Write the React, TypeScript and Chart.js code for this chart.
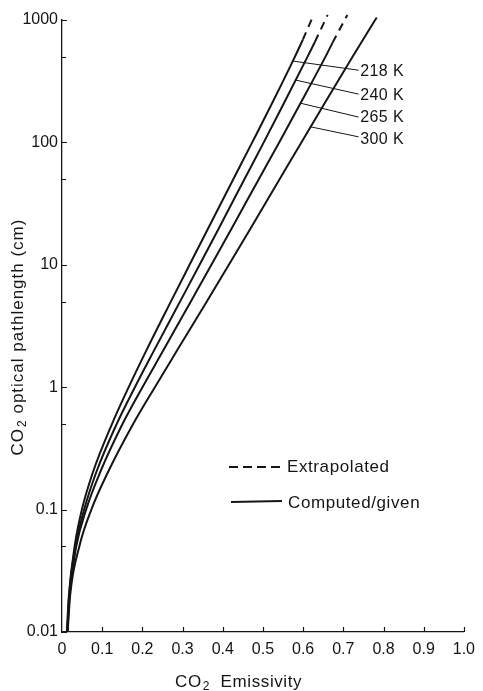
import React, { useEffect, useRef } from 'react';
import { Chart, registerables } from 'chart.js';

Chart.register(...registerables);

// ---- Axis ticks ----
const X_TICKS = [0, 0.1, 0.2, 0.3, 0.4, 0.5, 0.6, 0.7, 0.8, 0.9, 1.0];
const X_TICK_LABELS = ['0', '0.1', '0.2', '0.3', '0.4', '0.5', '0.6', '0.7', '0.8', '0.9', '1.0'];
const Y_TICKS = [0.01, 0.1, 1, 10, 100, 1000];
const Y_TICK_LABELS = ['0.01', '0.1', '1', '10', '100', '1000'];
const Y_MINOR_TICKS = [0.05, 0.5, 5, 50, 500];

// ---- Series (emissivity vs optical pathlength, cm) ----
const TEMP_LABELS = ['218 K', '240 K', '265 K', '300 K'];

const PATH_218 = [0.01, 0.02, 0.05, 0.1, 0.2, 0.5, 1, 2, 5, 10, 20, 50, 100, 200, 500, 690];
const EMIS_218 = [0.012, 0.0172, 0.0314, 0.0495, 0.0765, 0.1243, 0.1659, 0.21, 0.2708, 0.3174, 0.3642, 0.4262, 0.4733, 0.5199, 0.5794, 0.5993];
const PATH_218_EXT = [690, 1100];
const EMIS_218_EXT = [0.5993, 0.626];

const PATH_240 = [0.01, 0.02, 0.05, 0.1, 0.2, 0.5, 1, 2, 5, 10, 20, 50, 100, 200, 500, 661];
const EMIS_240 = [0.013, 0.0179, 0.0333, 0.0551, 0.0848, 0.136, 0.1814, 0.2292, 0.2936, 0.3424, 0.3907, 0.4539, 0.502, 0.5493, 0.6108, 0.6292];
const PATH_240_EXT = [661, 1100];
const EMIS_240_EXT = [0.6292, 0.661];

const PATH_265 = [0.01, 0.02, 0.05, 0.1, 0.2, 0.5, 1, 2, 5, 10, 20, 50, 100, 200, 500, 650];
const EMIS_265 = [0.0135, 0.0189, 0.0355, 0.06, 0.0944, 0.1505, 0.2002, 0.2522, 0.3203, 0.3718, 0.4228, 0.4897, 0.5404, 0.5904, 0.6554, 0.673];
const PATH_265_EXT = [650, 1100];
const EMIS_265_EXT = [0.673, 0.71];

const PATH_300 = [0.01, 0.02, 0.05, 0.1, 0.2, 0.5, 1, 2, 5, 10, 20, 50, 100, 200, 500, 1050];
const EMIS_300 = [0.014, 0.0203, 0.0431, 0.073, 0.1137, 0.177, 0.2311, 0.2865, 0.36, 0.4152, 0.4699, 0.5414, 0.5956, 0.6502, 0.723, 0.7831];

// ---- Label leaders (from curve to label) ----
const LEADER_START_EMIS = [0.574, 0.5815, 0.5935, 0.6186];
const LEADER_START_PATH = [462, 323, 209, 134];
const LEADER_END_EMIS = [0.738, 0.738, 0.738, 0.738];
const LEADER_END_PATH = [389, 248, 161, 111];
const LABEL_EMIS = [0.742, 0.742, 0.742, 0.742];
const LABEL_PATH = [376, 239, 158, 105];

const LEGEND_LABELS = ['Extrapolated', 'Computed/given'];

const INK = '#151515';
const FONT = '"Liberation Sans", Arial, Helvetica, sans-serif';

const pts = (xs: number[], ys: number[]) => xs.map((x, i) => ({ x, y: ys[i] }));

function drawCO2(ctx: CanvasRenderingContext2D, x: number, y: number, rest: string, size: number) {
  ctx.font = `${size}px ${FONT}`;
  ctx.textAlign = 'left';
  ctx.textBaseline = 'middle';
  ctx.fillText('CO', x, y);
  let cx = x + ctx.measureText('CO').width + 1;
  ctx.font = `${Math.round(size * 0.72)}px ${FONT}`;
  ctx.fillText('2', cx, y + size * 0.28);
  cx += ctx.measureText('2').width;
  ctx.font = `${size}px ${FONT}`;
  ctx.fillText(rest, cx, y);
}

function measureCO2(ctx: CanvasRenderingContext2D, rest: string, size: number) {
  ctx.font = `${size}px ${FONT}`;
  let w = ctx.measureText('CO').width + 1;
  ctx.font = `${Math.round(size * 0.72)}px ${FONT}`;
  w += ctx.measureText('2').width;
  ctx.font = `${size}px ${FONT}`;
  w += ctx.measureText(rest).width;
  return w;
}

const decorPlugin = {
  id: 'decor',
  afterDraw(chart: any) {
    const ctx: CanvasRenderingContext2D = chart.ctx;
    const xs = chart.scales.x;
    const ys = chart.scales.y;
    const area = chart.chartArea;
    ctx.save();
    ctx.strokeStyle = INK;
    ctx.fillStyle = INK;

    // inward tick marks
    ctx.lineWidth = 1.2;
    ctx.beginPath();
    X_TICKS.forEach((v, i) => {
      if (i === 0) return;
      const px = Math.round(xs.getPixelForValue(v)) + 0.5;
      ctx.moveTo(px, area.bottom);
      ctx.lineTo(px, area.bottom - 5);
    });
    Y_TICKS.forEach((v) => {
      const py = Math.round(ys.getPixelForValue(v)) + 0.5;
      ctx.moveTo(area.left, py);
      ctx.lineTo(area.left + 5, py);
    });
    Y_MINOR_TICKS.forEach((v) => {
      const py = Math.round(ys.getPixelForValue(v)) + 0.5;
      ctx.moveTo(area.left, py);
      ctx.lineTo(area.left + 4, py);
    });
    ctx.stroke();

    // series labels
    ctx.font = `16px ${FONT}`;
    (ctx as any).letterSpacing = '0.4px';
    ctx.textAlign = 'left';
    ctx.textBaseline = 'middle';
    TEMP_LABELS.forEach((t, i) => {
      ctx.fillText(t, xs.getPixelForValue(LABEL_EMIS[i]), ys.getPixelForValue(LABEL_PATH[i]));
    });

    // legend
    const lx0 = 229, lx1 = 282;
    ctx.lineWidth = 2;
    ctx.setLineDash([9, 5]);
    ctx.beginPath();
    ctx.moveTo(lx0, 467);
    ctx.lineTo(lx1, 467);
    ctx.stroke();
    ctx.setLineDash([]);
    ctx.beginPath();
    ctx.moveTo(lx0 + 2, 502);
    ctx.lineTo(lx1, 501);
    ctx.stroke();
    ctx.font = `17px ${FONT}`;
    (ctx as any).letterSpacing = '0.6px';
    ctx.fillText(LEGEND_LABELS[0], 287, 467);
    ctx.fillText(LEGEND_LABELS[1], 288, 503);

    // x-axis title
    (ctx as any).letterSpacing = '0.6px';
    drawCO2(ctx, 175, 682, '  Emissivity', 17);

    // y-axis title (rotated)
    (ctx as any).letterSpacing = '1px';
    const rest = ' optical pathlength (cm)';
    const w = measureCO2(ctx, rest, 17);
    ctx.translate(18, 337);
    ctx.rotate(-Math.PI / 2);
    drawCO2(ctx, -w / 2, 0, rest, 17);
    ctx.restore();
  },
};

export default function App() {
  const ref = useRef<HTMLCanvasElement | null>(null);

  useEffect(() => {
    document.body.style.margin = '0';
    const canvas = ref.current;
    if (!canvas) return;

    const solid = (xs: number[], ys: number[]) => ({
      data: pts(ys, xs),
      borderColor: INK,
      borderWidth: 2,
      pointRadius: 0,
      cubicInterpolationMode: 'monotone' as const,
      fill: false,
    });
    const dashed = (xs: number[], ys: number[]) => ({
      data: pts(ys, xs),
      borderColor: INK,
      borderWidth: 2,
      borderDash: [8, 6],
      pointRadius: 0,
      tension: 0,
      fill: false,
      clip: false as any,
    });

    const leaders = TEMP_LABELS.map((_, i) => ({
      data: [
        { x: LEADER_START_EMIS[i], y: LEADER_START_PATH[i] },
        { x: LEADER_END_EMIS[i], y: LEADER_END_PATH[i] },
      ],
      borderColor: INK,
      borderWidth: 1,
      pointRadius: 0,
      tension: 0,
      fill: false,
    }));

    const datasets: any[] = [
      { label: TEMP_LABELS[0], ...solid(PATH_218, EMIS_218) },
      { label: TEMP_LABELS[1], ...solid(PATH_240, EMIS_240) },
      { label: TEMP_LABELS[2], ...solid(PATH_265, EMIS_265) },
      { label: TEMP_LABELS[3], ...solid(PATH_300, EMIS_300), clip: false },
      { label: '218 ext', ...dashed(PATH_218_EXT, EMIS_218_EXT) },
      { label: '240 ext', ...dashed(PATH_240_EXT, EMIS_240_EXT) },
      { label: '265 ext', ...dashed(PATH_265_EXT, EMIS_265_EXT) },
      ...leaders,
    ];

    const chart = new Chart(canvas, {
      type: 'line',
      data: { datasets },
      options: {
        responsive: false,
        maintainAspectRatio: false,
        devicePixelRatio: 1,
        animation: false,
        layout: { padding: { top: 20, right: 13, left: 0, bottom: 0 } },
        plugins: {
          legend: { display: false },
          tooltip: { enabled: false },
          title: { display: false },
        },
        scales: {
          x: {
            type: 'linear',
            min: 0,
            max: 1,
            afterBuildTicks: (s: any) => {
              s.ticks = X_TICKS.map((v) => ({ value: v }));
            },
            afterFit: (s: any) => {
              s.height = 59;
            },
            ticks: {
              autoSkip: false,
              maxRotation: 0,
              padding: 8,
              color: INK,
              font: { family: FONT, size: 16 },
              callback: (_v: any, i: number) => X_TICK_LABELS[i],
            },
            grid: { display: false, drawTicks: false },
            border: { display: true, color: INK, width: 1.3 },
          },
          y: {
            type: 'logarithmic',
            min: 0.01,
            max: 1000,
            afterBuildTicks: (s: any) => {
              s.ticks = Y_TICKS.map((v) => ({ value: v }));
            },
            afterFit: (s: any) => {
              s.width = 62;
            },
            ticks: {
              autoSkip: false,
              padding: 4,
              color: INK,
              font: { family: FONT, size: 16 },
              callback: (_v: any, i: number) => Y_TICK_LABELS[i],
            },
            grid: { display: false, drawTicks: false },
            border: { display: true, color: INK, width: 1.3 },
          },
        },
      },
      plugins: [decorPlugin],
    });

    return () => chart.destroy();
  }, []);

  return (
    <div style={{ width: 483, height: 691, background: '#fff' }}>
      <canvas ref={ref} width={483} height={691} style={{ display: 'block' }} />
    </div>
  );
}
